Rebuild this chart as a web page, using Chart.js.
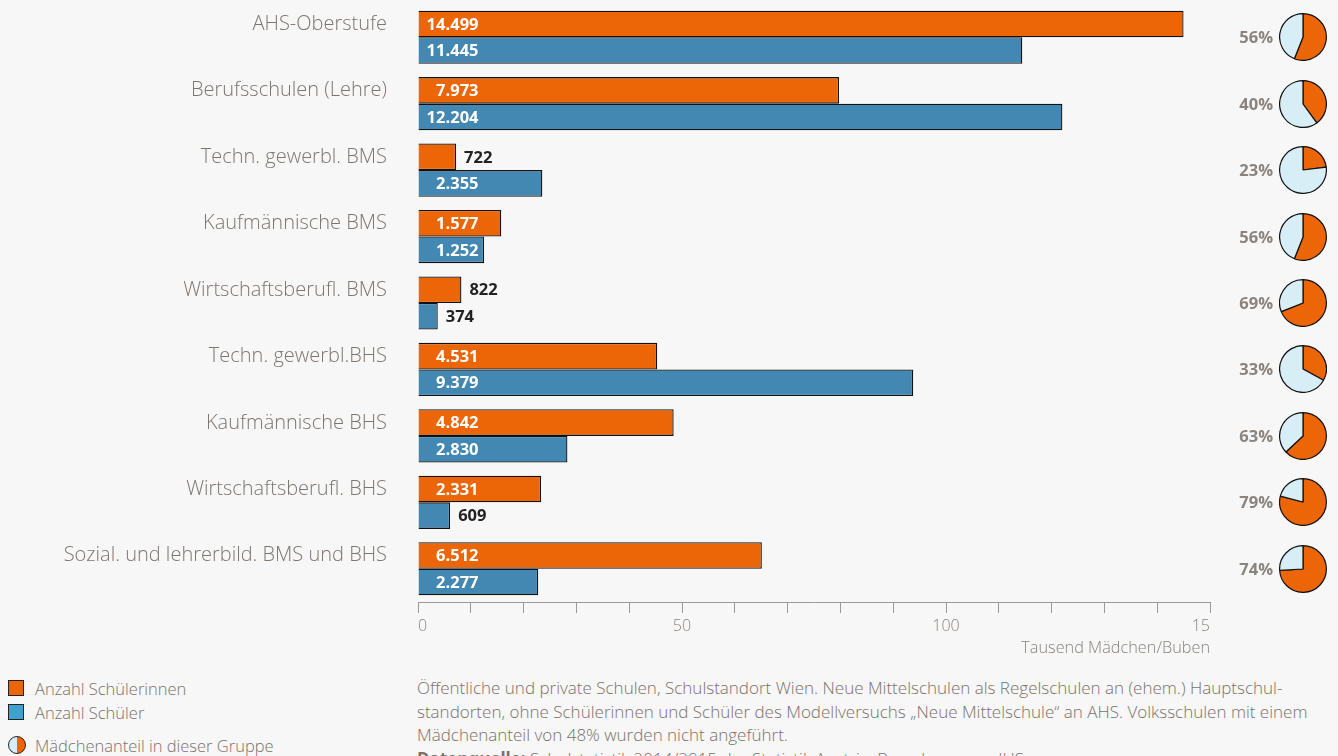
<!DOCTYPE html>
<html lang="de">
<head>
<meta charset="utf-8">
<script src="https://cdn.jsdelivr.net/npm/chart.js@4/dist/chart.umd.min.js"></script>
<style>
  body { margin: 0; background: #f7f7f7; font-family: "Open Sans", sans-serif; color: #7a716b; }
  #wrap { position: relative; width: 1338px; height: 756px; overflow: hidden; }
  #main { position: absolute; left: 0; top: 0; }
  .pie { position: absolute; }
  .pct { position: absolute; width: 60px; text-align: right; font-weight: 700; font-size: 16.5px; color: #8a837e; }
  #legend { position: absolute; left: 8px; top: 676px; font-size: 16.5px; font-weight: 300; }
  #legend div { height: 24px; display: flex; align-items: center; }
  .sw { width: 16px; height: 16px; border: 1px solid #222; margin-right: 11px; box-sizing: border-box; }
  #note { position: absolute; left: 417px; top: 676px; font-size: 17px; font-weight: 300; line-height: 23.5px; white-space: nowrap; }
</style>
</head>
<body>
<div id="wrap">
  <canvas id="main" width="1220" height="660"></canvas>
  <div id="legend">
    <div><span class="sw" style="background:#ec6608"></span>Anzahl Schülerinnen</div>
    <div><span class="sw" style="background:#3ea2cc"></span>Anzahl Schüler</div>
    <div style="margin-top:9px"><span class="sw" style="border-radius:50%;width:18px;height:18px;margin-right:9px;background:linear-gradient(90deg,#d8eef6 47%,#222 47%,#222 53%,#ec6608 53%)"></span>Mädchenanteil in dieser Gruppe</div>
  </div>
  <div id="note">
    Öffentliche und private Schulen, Schulstandort Wien. Neue Mittelschulen als Regelschulen an (ehem.) Hauptschul-<br>
    standorten, ohne Schülerinnen und Schüler des Modellversuchs „Neue Mittelschule“ an AHS. Volksschulen mit einem<br>
    Mädchenanteil von 48% wurden nicht angeführt.<br>
    <b style="font-weight:700">Datenquelle:</b> Schulstatistik 2014/2015 der Statistik Austria. Berechnungen: IHS
  </div>
</div>
<script>
const categories = [
  "AHS-Oberstufe",
  "Berufsschulen (Lehre)",
  "Techn. gewerbl. BMS",
  "Kaufmännische BMS",
  "Wirtschaftsberufl. BMS",
  "Techn. gewerbl.BHS",
  "Kaufmännische BHS",
  "Wirtschaftsberufl. BHS",
  "Sozial. und lehrerbild. BMS und BHS"
];
const girls = [14499, 7973, 722, 1577, 822, 4531, 4842, 2331, 6512];
const boys = [11445, 12204, 2355, 1252, 374, 9379, 2830, 609, 2277];
const girlsShare = [56, 40, 23, 56, 69, 33, 63, 79, 74];
// axis labels as printed (in thousands, 0..15)
const tickLabels = { 0: "0", 5: "50", 10: "100", 15: "15" };

const orange = "#ec6608";
const blue = "#4387b3";
const lightBlue = "#d8eef6";
const grey = "#7d7570";

function fmt(v) {
  return String(v).replace(/\B(?=(\d{3})+(?!\d))/g, ".");
}

const valueLabels = {
  id: "valueLabels",
  afterDatasetsDraw(chart) {
    const ctx = chart.ctx;
    ctx.save();
    ctx.font = "700 16.5px 'Open Sans'";
    ctx.textBaseline = "middle";
    chart.data.datasets.forEach((ds, di) => {
      chart.getDatasetMeta(di).data.forEach((bar, i) => {
        const v = ds.data[i];
        if (v >= 1000) {
          ctx.fillStyle = "#fff";
          ctx.textAlign = "right";
          ctx.fillText(fmt(v), bar.base + 60, bar.y + 1);
        } else {
          ctx.fillStyle = "#222";
          ctx.textAlign = "left";
          ctx.fillText(fmt(v), bar.x + 8, bar.y + 1);
        }
      });
    });
    ctx.restore();
  }
};

const chart = new Chart(document.getElementById("main"), {
  type: "bar",
  data: {
    labels: categories,
    datasets: [
      { label: "Anzahl Schülerinnen", data: girls, backgroundColor: orange, borderColor: "#111", borderWidth: 1.3 },
      { label: "Anzahl Schüler", data: boys, backgroundColor: blue, borderColor: "#111", borderWidth: 1.3 }
    ]
  },
  options: {
    indexAxis: "y",
    responsive: false,
    animation: false,
    categoryPercentage: 0.8,
    barPercentage: 1.0,
    layout: { padding: { top: 4, right: 10, left: 0, bottom: 0 } },
    plugins: { legend: { display: false }, tooltip: { enabled: false } },
    scales: {
      y: {
        grid: { display: false, drawTicks: false },
        border: { display: false },
        afterFit: (s) => { s.width = 418; s.paddingTop = 0; s.paddingBottom = 0; },
        ticks: {
          color: grey,
          padding: 31,
          labelOffset: -13,
          font: { family: "Open Sans", size: 20, weight: 300 }
        }
      },
      x: {
        min: 0,
        max: 15000,
        afterFit: (s) => { s.height = 58; },
        grid: { drawOnChartArea: false, drawTicks: true, tickLength: 11, color: "#999" },
        border: { display: true, color: "#999", width: 1 },
        ticks: {
          stepSize: 1000,
          autoSkip: false,
          maxRotation: 0,
          align: "inner",
          padding: 4,
          color: "#8a837e",
          font: { family: "Open Sans", size: 16, weight: 300 },
          callback: (v) => tickLabels[v / 1000] || ""
        },
        title: {
          display: true,
          text: "Tausend Mädchen/Buben",
          align: "end",
          color: "#8a837e",
          font: { family: "Open Sans", size: 16.3, weight: 300 },
          padding: { top: 0, bottom: 2 }
        }
      }
    }
  },
  plugins: [valueLabels]
});

// small pies for the girls' share, placed on the category positions
const wrap = document.getElementById("wrap");
const yScale = chart.scales.y;
girlsShare.forEach((p, i) => {
  const cy = yScale.getPixelForValue(i);
  const c = document.createElement("canvas");
  c.width = 48; c.height = 48;
  c.className = "pie";
  c.style.left = "1279px";
  c.style.top = (cy - 24) + "px";
  wrap.appendChild(c);
  const t = document.createElement("div");
  t.className = "pct";
  t.textContent = p + "%";
  t.style.left = "1213px";
  t.style.top = (cy - 12) + "px";
  wrap.appendChild(t);
  new Chart(c, {
    type: "pie",
    data: { datasets: [{ data: [p, 100 - p], backgroundColor: [orange, lightBlue], borderColor: "#111", borderWidth: 1.2 }] },
    options: { responsive: false, animation: false, plugins: { legend: { display: false }, tooltip: { enabled: false } } }
  });
});
</script>
</body>
</html>
